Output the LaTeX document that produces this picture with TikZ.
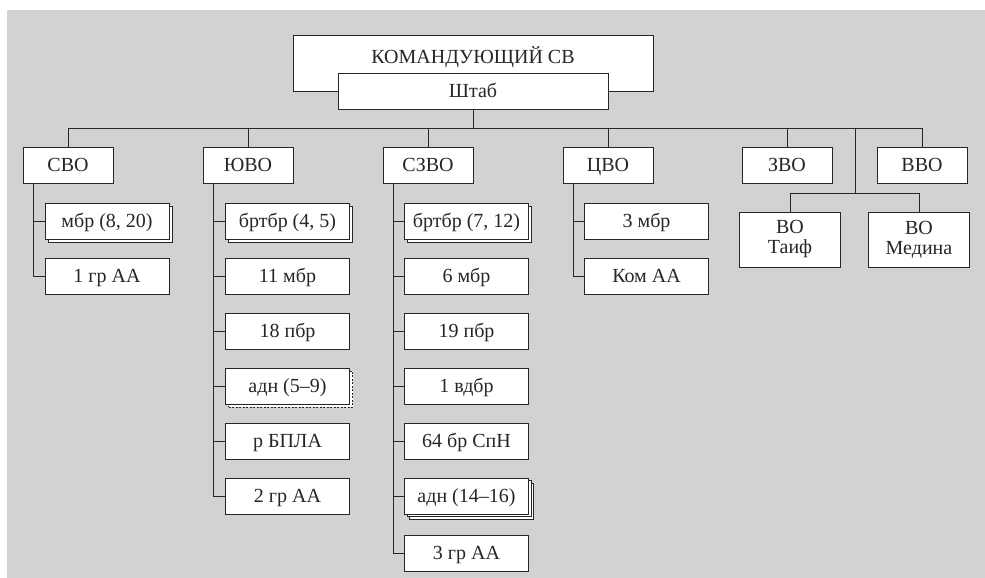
\documentclass[tikz,border=0pt]{standalone}
\usepackage{fontspec}
\setmainfont{Liberation Serif}
\usepackage{xcolor}
\usetikzlibrary{shadows}
\definecolor{bggray}{RGB}{210,210,210}

\begin{document}
\begin{tikzpicture}[
    x=1pt,
    y=-1pt,
    font=\fontsize{20}{20}\selectfont,
    box/.style={
        rectangle,
        draw=black!85,
        fill=white,
        line width=0.9pt,
        inner sep=0pt,
        align=center,
        text=black!85
    },
    oneline/.style={text height=16pt, text depth=2.8pt},
    okrug/.style={box, oneline, minimum width=90pt, minimum height=36pt},
    unitbox/.style={box, oneline, minimum width=124pt, minimum height=36pt},
    vobox/.style={box, minimum width=101pt, minimum height=55pt},
    copyone/.style={copy shadow={shadow xshift=3pt, shadow yshift=-3pt}},
    copytwo/.style={
        copy shadow={shadow xshift=5pt, shadow yshift=-5pt},
        copy shadow={shadow xshift=2.5pt, shadow yshift=-2.5pt}
    },
    copydash/.style={copy shadow={shadow xshift=3pt, shadow yshift=-3pt, dash pattern=on 2pt off 1.5pt}},
    link/.style={draw=black!85, line width=0.9pt}
]

\useasboundingbox (0,0) rectangle (985,578);
\fill[bggray] (7,10) rectangle (985,578);

\node[box, minimum width=360pt, text height=28pt, text depth=28pt, anchor=north] (kom) at (473,35) {КОМАНДУЮЩИЙ СВ};
\node[box, oneline, minimum width=270pt, minimum height=36pt] (stab) at (473,91) {Штаб};

\coordinate (bus) at (473,128);
\coordinate (vobus) at (855,193);

\node[okrug] (svo) at (68,165) {СВО};
\node[okrug] (yuvo) at (248,165) {ЮВО};
\node[okrug] (szvo) at (428,165) {СЗВО};
\node[okrug] (cvo) at (608,165) {ЦВО};
\node[okrug] (zvo) at (787,165) {ЗВО};
\node[okrug] (vvo) at (922,165) {ВВО};

\node[vobox] (taif) at (790,239.5) {ВО\\Таиф};
\node[vobox] (medina) at (919,239.5) {ВО\\Медина};

\node[unitbox, copyone] (svo1) at (107,221) {мбр (8, 20)};
\node[unitbox] (svo2) at (107,276) {1 гр АА};

\node[unitbox, copyone] (yuvo1) at (287.5,221) {бртбр (4, 5)};
\node[unitbox] (yuvo2) at (287.5,276) {11 мбр};
\node[unitbox] (yuvo3) at (287.5,331) {18 пбр};
\node[unitbox, copydash] (yuvo4) at (287.5,386) {адн (5--9)};
\node[unitbox] (yuvo5) at (287.5,441) {р БПЛА};
\node[unitbox] (yuvo6) at (287.5,496) {2 гр АА};

\node[unitbox, copyone] (szvo1) at (466.5,221) {бртбр (7, 12)};
\node[unitbox] (szvo2) at (466.5,276) {6 мбр};
\node[unitbox] (szvo3) at (466.5,331) {19 пбр};
\node[unitbox] (szvo4) at (466.5,386) {1 вдбр};
\node[unitbox] (szvo5) at (466.5,441) {64 бр СпН};
\node[unitbox, copytwo] (szvo6) at (466.5,496) {адн (14--16)};
\node[unitbox] (szvo7) at (466.5,553) {3 гр АА};

\node[unitbox] (cvo1) at (646.5,221) {3 мбр};
\node[unitbox] (cvo2) at (646.5,276) {Ком АА};

\draw[link] (stab.south) -- (bus);
\foreach \n in {svo,yuvo,szvo,cvo,zvo,vvo}
    \draw[link] (bus) -| (\n.north);
\draw[link] (bus) -| (vobus);
\foreach \n in {taif,medina}
    \draw[link] (vobus) -| (\n.north);

\foreach \p/\c in {svo/svo1,svo/svo2,
                   yuvo/yuvo1,yuvo/yuvo2,yuvo/yuvo3,yuvo/yuvo4,yuvo/yuvo5,yuvo/yuvo6,
                   szvo/szvo1,szvo/szvo2,szvo/szvo3,szvo/szvo4,szvo/szvo5,szvo/szvo6,szvo/szvo7,
                   cvo/cvo1,cvo/cvo2}
    \draw[link] ([xshift=11pt]\p.south west) |- (\c.west);

\end{tikzpicture}
\end{document}
